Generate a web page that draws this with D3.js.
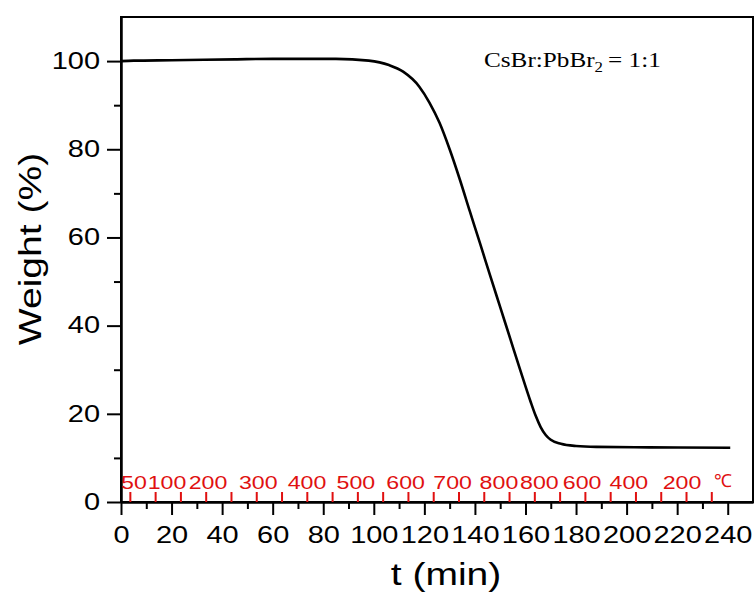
<!DOCTYPE html>
<meta charset="utf-8">
<style>
  body { margin: 0; background: #fff; }
  svg text { font-family: Arial, "Liberation Sans", sans-serif; }
</style>
<body>
<svg width="755" height="595"></svg>
<script src="https://d3js.org/d3.v7.min.js"></script>
<script>

// TGA curve, CsBr:PbBr2 = 1:1
var time = [0, 5, 20, 45, 60, 85, 98, 106, 111.6, 118, 122, 126, 130, 134, 138, 142,
            146, 150, 154, 158, 162, 164, 166, 168, 170, 174, 180, 188, 209, 241];
var weight = [100.0, 100.1, 100.2, 100.4, 100.5, 100.5, 100.1, 99.1, 97.6, 94.2, 90.6, 86.0, 80.0, 73.2, 65.9, 58.7,
              51.4, 44.2, 37.0, 29.8, 22.8, 19.6, 17.0, 15.2, 14.1, 13.2, 12.7, 12.5, 12.4, 12.3];

var xMajor = [0, 20, 40, 60, 80, 100, 120, 140, 160, 180, 200, 220, 240];
var xMinor = [10, 30, 50, 70, 90, 110, 130, 150, 170, 190, 210, 230];
var yMajor = [0, 20, 40, 60, 80, 100];
var yMinor = [10, 30, 50, 70, 90];

// temperature program marks (red, on the time axis)
var tempTicks = [3.7, 13.7, 23.7, 33.7, 43.7, 53.7, 63.7, 73.7, 83.7, 93.7, 103.7, 113.7,
                 123.7, 133.7, 143.7, 153.7, 163.7, 173.7, 183.7, 193.7, 203.7, 213.7, 223.7, 233.7];
var tempLabelPos = [5.1, 18.2, 34.4, 54.3, 73.6, 92.9, 112.6, 131.2, 149.5, 165.5, 182.4, 200.9, 221.9];
var tempLabels = ["50", "100", "200", "300", "400", "500", "600", "700", "800", "800", "600", "400", "200"];

var svg = d3.select("svg"),
    margin = {top: 17, right: 2, bottom: 93, left: 121},
    width = +svg.attr("width") - margin.left - margin.right,
    height = +svg.attr("height") - margin.top - margin.bottom;

var stretch = 1.26;   // the original lettering is wide

var g = svg.append("g").attr("transform", "translate(" + margin.left + "," + margin.top + ")");

var x = d3.scaleLinear().domain([0, 250]).range([0, width]);
var y = d3.scaleLinear().domain([0, 110]).range([height, 0]);

// frame
g.append("rect")
    .attr("width", width).attr("height", height)
    .attr("fill", "none").attr("stroke", "#000").attr("stroke-width", 2);

// bottom axis
var xAx = g.append("g").attr("transform", "translate(0," + height + ")")
    .call(d3.axisBottom(x).tickValues(xMajor).tickSize(13).tickSizeOuter(0));
g.append("g").attr("transform", "translate(0," + height + ")")
    .call(d3.axisBottom(x).tickValues(xMinor).tickSize(7).tickSizeOuter(0).tickFormat(""));

// left axis
var yAx = g.append("g")
    .call(d3.axisLeft(y).tickValues(yMajor).tickSize(14).tickSizeOuter(0));
g.append("g")
    .call(d3.axisLeft(y).tickValues(yMinor).tickSize(7).tickSizeOuter(0).tickFormat(""));

g.selectAll(".domain").attr("stroke-width", 2);
g.selectAll(".tick line").attr("stroke-width", 2);
g.selectAll(".tick text").attr("font-size", 23).attr("fill", "#000")
    .attr("transform", "scale(" + stretch + ",1)");
xAx.selectAll(".tick text").attr("y", 41).attr("dy", 0);
yAx.selectAll(".tick text").attr("x", -21 / stretch);

// red temperature ticks and labels
g.append("g").selectAll("line")
  .data(tempTicks)
  .enter().append("line")
    .attr("x1", d => x(d)).attr("x2", d => x(d))
    .attr("y1", height).attr("y2", height - 10)
    .attr("stroke", "#e01010").attr("stroke-width", 2);

g.append("g").selectAll("text")
  .data(tempLabels)
  .enter().append("text")
    .attr("transform", (d, i) => "translate(" + x(tempLabelPos[i]) + "," + (height - 13) + ") scale(1.22,1)")
    .attr("text-anchor", "middle")
    .attr("font-size", 19)
    .attr("fill", "#e01010")
    .text(d => d);

g.append("text")
    .attr("x", x(238)).attr("y", height - 15)
    .attr("text-anchor", "middle")
    .attr("font-size", 18)
    .attr("fill", "#e01010")
    .text("\u2103");

// curve
var line = d3.line()
    .x((d, i) => x(time[i]))
    .y((d, i) => y(weight[i]))
    .curve(d3.curveMonotoneX);

g.append("path")
    .datum(weight)
    .attr("fill", "none")
    .attr("stroke", "#000")
    .attr("stroke-width", 2.6)
    .attr("d", line);

// annotation
var ann = g.append("text")
    .attr("transform", "translate(363,50) scale(1.2,1)")
    .style("font-family", "'Liberation Serif', 'Times New Roman', serif")
    .attr("font-size", 21)
    .attr("fill", "#000");
ann.append("tspan").text("CsBr:PbBr");
ann.append("tspan").attr("font-size", 14).attr("dy", 5).text("2");
ann.append("tspan").attr("dy", -5).text("\u2009= 1:1");

// axis titles
svg.append("text")
    .attr("transform", "translate(446,585) scale(" + stretch + ",1)")
    .attr("text-anchor", "middle")
    .attr("font-size", 31)
    .text("t (min)");

svg.append("text")
    .attr("transform", "translate(41,249) rotate(-90) scale(" + stretch + ",1)")
    .attr("text-anchor", "middle")
    .attr("font-size", 31)
    .text("Weight (%)");

</script>
</body>
